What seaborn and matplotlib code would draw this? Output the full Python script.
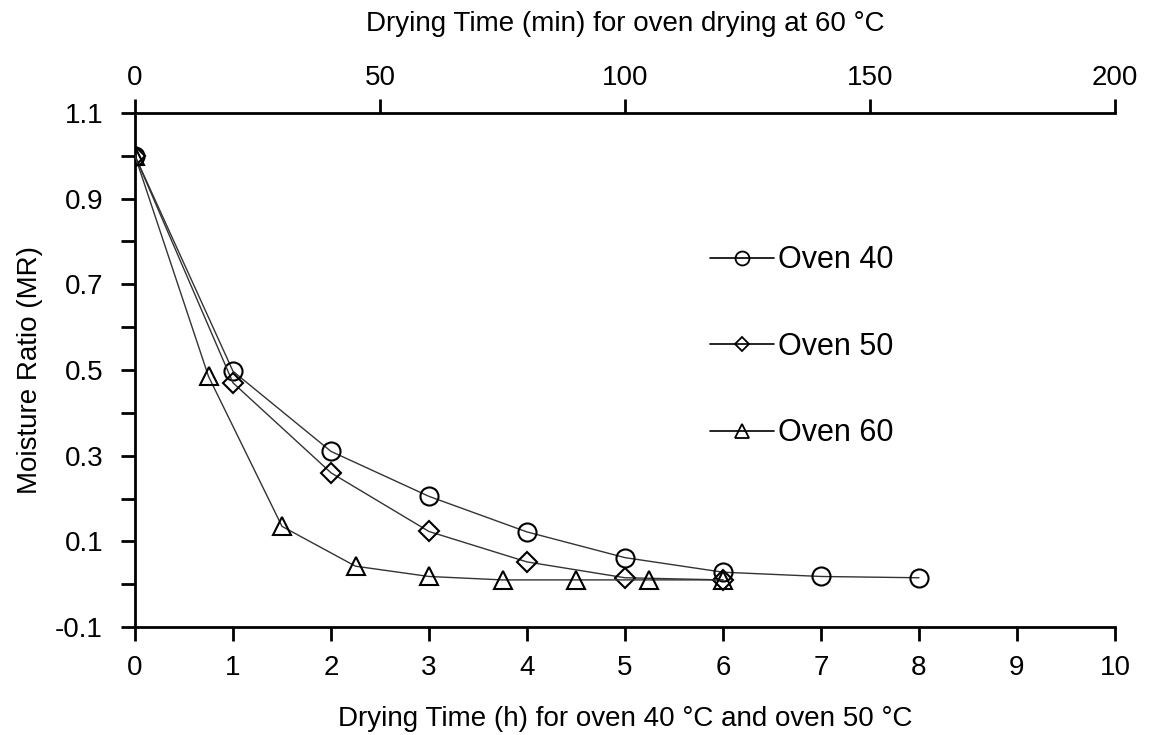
import matplotlib
matplotlib.use("Agg")
import matplotlib.pyplot as plt
import seaborn as sns
import pandas as pd
from matplotlib.ticker import MultipleLocator
from matplotlib.lines import Line2D

# Data
hours_40 = [0, 1, 2, 3, 4, 5, 6, 7, 8]
mr_40 = [1.0, 0.497, 0.31, 0.205, 0.122, 0.062, 0.028, 0.018, 0.015]
hours_50 = [0, 1, 2, 3, 4, 5, 6]
mr_50 = [1.0, 0.47, 0.26, 0.123, 0.052, 0.015, 0.01]
minutes_60 = [0, 15, 30, 45, 60, 75, 90, 105, 120]
mr_60 = [1.0, 0.485, 0.135, 0.042, 0.018, 0.01, 0.01, 0.01, 0.01]
series_labels = ["Oven 40", "Oven 50", "Oven 60"]

sns.set_theme(style="white")
plt.rcParams['font.family'] = ['Liberation Sans', 'DejaVu Sans']
plt.rcParams['text.color'] = 'black'

fig = plt.figure(figsize=(11.49, 7.35), dpi=100)
ax = fig.add_axes([0.1175, 0.1469, 0.8529, 0.6994])
ax2 = ax.twiny()

line_kw = dict(color="#333333", linewidth=1.0, markersize=13,
               markerfacecolor="none", markeredgecolor="black", markeredgewidth=1.5)

df40 = pd.DataFrame({"x": hours_40, "y": mr_40})
df50 = pd.DataFrame({"x": hours_50, "y": mr_50})
df60 = pd.DataFrame({"x": minutes_60, "y": mr_60})

sns.lineplot(data=df40, x="x", y="y", ax=ax, marker="o", **line_kw)
sns.lineplot(data=df50, x="x", y="y", ax=ax, marker="D", **{**line_kw, "markersize": 10})
sns.lineplot(data=df60, x="x", y="y", ax=ax2, marker="^", **{**line_kw, "markersize": 13})

ax.set_xlim(0, 10)
ax2.set_xlim(0, 200)
ax.set_ylim(-0.1, 1.1)
ax.xaxis.set_major_locator(MultipleLocator(1))
ax2.xaxis.set_major_locator(MultipleLocator(50))
ax.set_yticks([-0.1, 0.1, 0.3, 0.5, 0.7, 0.9, 1.1])
ax.set_yticklabels(["-0.1", "0.1", "0.3", "0.5", "0.7", "0.9", "1.1"])
ax.yaxis.set_minor_locator(MultipleLocator(0.1))

for a in (ax, ax2):
    a.set_facecolor("none")
    for s in a.spines.values():
        s.set_visible(False)
ax.spines["left"].set_visible(True)
ax.spines["bottom"].set_visible(True)
ax2.spines["top"].set_visible(True)
for s in (ax.spines["left"], ax.spines["bottom"], ax2.spines["top"]):
    s.set_color("black")
    s.set_linewidth(2.0)

ax.tick_params(axis="both", which="both", direction="out", color="black",
               width=2.0, length=10, labelsize=20, labelcolor="black",
               left=True, bottom=True)
ax.tick_params(axis="y", which="both", pad=13)
ax.tick_params(axis="x", which="both", pad=10)
ax.tick_params(axis="y", which="minor", length=10, width=2.0)
ax2.tick_params(axis="x", direction="out", color="black", width=2.0, length=10,
                labelsize=20, labelcolor="black", top=True, pad=6)

ax.set_xlabel("Drying Time (h) for oven 40 °C and oven 50 °C", fontsize=20,
              color="black", labelpad=18)
ax.set_ylabel("Moisture Ratio (MR)", fontsize=20, color="black", labelpad=9)
ax2.set_xlabel("Drying Time (min) for oven drying at 60 °C", fontsize=20,
               color="black", labelpad=24)

handle_kw = dict(color="black", linewidth=1.2, markerfacecolor="none",
                 markeredgecolor="black", markeredgewidth=1.3)
handles = [
    Line2D([], [], marker="o", markersize=10, **handle_kw),
    Line2D([], [], marker="D", markersize=7, **handle_kw),
    Line2D([], [], marker="^", markersize=10, **handle_kw),
]
leg = ax.legend(handles, series_labels, loc="upper left", bbox_to_anchor=(0.559, 0.796),
                frameon=False, fontsize=22, labelspacing=1.85, handlelength=2.1,
                handletextpad=0.1)
for t in leg.get_texts():
    t.set_color("black")

fig.savefig("out.png", dpi=100, facecolor="white")
